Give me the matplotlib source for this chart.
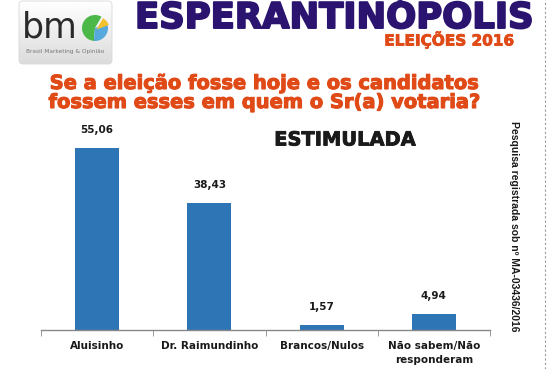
import numpy as np
import matplotlib
matplotlib.use("Agg")
import matplotlib.pyplot as plt
import matplotlib.patheffects as pe
from matplotlib.patches import FancyBboxPatch, Wedge

# ---------------------------------------------------------------
# data
# ---------------------------------------------------------------
categories = ["Aluisinho", "Dr. Raimundinho", "Brancos/Nulos",
              "Não sabem/Não\nresponderam"]
values = [55.06, 38.43, 1.57, 4.94]
value_labels = ["55,06", "38,43", "1,57", "4,94"]

W, H = 550, 369
BAR_COLOR = "#2e75b6"
PURPLE = "#2b1470"
ORANGE = "#e04a17"


def fx(px):
    return px / W


def fy(py):
    return 1 - py / H


def heavy(color, lw):
    # thicken bold text a bit, the original uses a black-weight font
    return [pe.withStroke(linewidth=lw, foreground=color)]


fig = plt.figure(figsize=(W / 100, H / 100), dpi=100)
fig.patch.set_facecolor("white")

# ---------------------------------------------------------------
# bar chart
# ---------------------------------------------------------------
ax = fig.add_axes([fx(41), fy(330), fx(490) - fx(41), fy(131.4) - fy(330)])
x = np.arange(len(categories))
ax.bar(x, values, width=0.39, color=BAR_COLOR, zorder=2)
for xi, v, lab in zip(x, values, value_labels):
    ax.annotate(lab, (xi, v), xytext=(0, 9), textcoords="offset points",
                ha="center", va="bottom", fontsize=7.5, fontweight="bold",
                color="#1a1a1a")

ax.set_xlim(-0.5, len(categories) - 0.5)
ax.set_ylim(0, 60)
ax.set_yticks([])
ax.set_xticks(x)
ax.set_xticklabels(categories, fontsize=7.5, fontweight="bold",
                   color="#1a1a1a", linespacing=1.5)
ax.set_xticks(np.arange(-0.5, len(categories)), minor=True)
ax.tick_params(axis="x", which="major", length=0, pad=8)
ax.tick_params(axis="x", which="minor", length=4, color="#888888",
               direction="out")
for side in ["top", "left", "right"]:
    ax.spines[side].set_visible(False)
ax.spines["bottom"].set_color("#888888")
ax.spines["bottom"].set_linewidth(1.0)
ax.patch.set_alpha(0)

# ---------------------------------------------------------------
# titles
# ---------------------------------------------------------------
fig.text(fx(334), fy(28), "ESPERANTINÓPOLIS", ha="center", va="baseline",
         fontsize=25.5, fontweight="bold", color=PURPLE,
         family="DejaVu Sans", path_effects=heavy(PURPLE, 1.4))
fig.text(fx(449), fy(45.5), "ELEIÇÕES 2016", ha="center", va="baseline",
         fontsize=11, fontweight="bold", color=ORANGE,
         family="DejaVu Sans", path_effects=heavy(ORANGE, 0.6))
fig.text(fx(265), fy(93),
         "Se a eleição fosse hoje e os candidatos\n"
         "fossem esses em quem o Sr(a) votaria?",
         ha="center", va="center", fontsize=14, fontweight="bold",
         color=ORANGE, family="DejaVu Sans", linespacing=1.0,
         path_effects=heavy(ORANGE, 0.8))
fig.text(fx(345), fy(140), "ESTIMULADA", ha="center", va="center",
         fontsize=14, fontweight="bold", color="#1a1a1a",
         family="DejaVu Sans", path_effects=heavy("#1a1a1a", 0.6))
fig.text(fx(514), fy(226), "Pesquisa registrada sob nº MA-03436/2016",
         ha="center", va="center", rotation=-90, fontsize=7.5,
         fontweight="bold", color="#1a1a1a", family="Liberation Sans")

# dotted border on the right
fig.add_artist(plt.Line2D([fx(545), fx(545)], [0, 1], color="#999999",
                          lw=0.8, ls=(0, (2, 2))))

# ---------------------------------------------------------------
# logo
# ---------------------------------------------------------------
logo = fig.add_axes([fx(18), fy(65), fx(113) - fx(18), fy(0) - fy(65)])
logo.set_xlim(0, 95)
logo.set_ylim(65, 0)
logo.axis("off")
box = FancyBboxPatch((1, 1), 93, 63, boxstyle="round,pad=0,rounding_size=4",
                     fc="none", ec="#d8d8d8", lw=0.6)
logo.add_patch(box)
grad = np.linspace(1.0, 0.86, 100).reshape(-1, 1)
img = logo.imshow(grad, cmap="gray", vmin=0, vmax=1, extent=[1, 94, 64, 1],
                  aspect="auto")
img.set_clip_path(box)
logo.text(4, 37, "bm", fontsize=25, color="#2a2a2a", ha="left",
          va="baseline", family="DejaVu Sans")
cx, cy, r = 77, 28, 13
logo.add_patch(Wedge((cx, cy), r, 95, 300, fc="#4cb848", ec="none"))
logo.add_patch(Wedge((cx, cy), r, -20, 95, fc="#55a9dc", ec="none"))
logo.add_patch(Wedge((cx + 1.5, cy + 1.5), r, -60, -20, fc="#f2c12e",
                     ec="none"))
logo.text(47, 52, "Brasil Marketing & Opinião", fontsize=4.2,
          color="#777777", ha="center", va="center")

fig.savefig("out.png", dpi=100)
